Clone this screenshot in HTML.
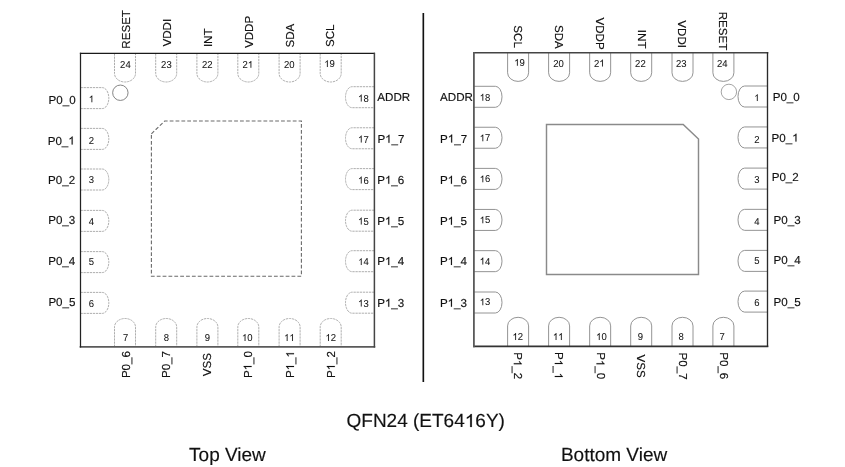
<!DOCTYPE html>
<html><head><meta charset="utf-8"><style>
html,body{margin:0;padding:0;background:#fff;}
body{width:845px;height:467px;overflow:hidden;}
svg{display:block;font-family:"Liberation Sans", sans-serif;text-rendering:geometricPrecision;will-change:transform;filter:blur(0.35px);}
text{stroke:#111;stroke-width:0.15px;}
.o{stroke:#111;stroke-width:0.15px;vector-effect:non-scaling-stroke;}
.n text,.n .o{stroke-width:0.05px;}
</style></head><body>
<svg width="845" height="467" viewBox="0 0 845 467">
<rect width="845" height="467" fill="#fff"/>
<path d="M114.5 53.4V73.4A10.5 8.6 0 0 0 135.5 73.4V53.4M114.5 346.85V327.1A10.5 8.6 0 0 1 135.5 327.1V346.85M155.7 53.4V73.4A10.5 8.6 0 0 0 176.7 73.4V53.4M155.7 346.85V327.1A10.5 8.6 0 0 1 176.7 327.1V346.85M196.9 53.4V73.4A10.5 8.6 0 0 0 217.9 73.4V53.4M196.9 346.85V327.1A10.5 8.6 0 0 1 217.9 327.1V346.85M237.8 53.4V73.4A10.5 8.6 0 0 0 258.8 73.4V53.4M237.8 346.85V327.1A10.5 8.6 0 0 1 258.8 327.1V346.85M279.1 53.4V73.4A10.5 8.6 0 0 0 300.1 73.4V53.4M279.1 346.85V327.1A10.5 8.6 0 0 1 300.1 327.1V346.85M320.2 53.4V73.4A10.5 8.6 0 0 0 341.2 73.4V53.4M320.2 346.85V327.1A10.5 8.6 0 0 1 341.2 327.1V346.85M80.5 87.6H102.2A6.6 10.5 0 0 1 102.2 108.6H80.5M80.5 128.4H102.2A6.6 10.5 0 0 1 102.2 149.4H80.5M80.5 169H102.2A6.6 10.5 0 0 1 102.2 190H80.5M80.5 210.4H102.2A6.6 10.5 0 0 1 102.2 231.4H80.5M80.5 251.6H102.2A6.6 10.5 0 0 1 102.2 272.6H80.5M80.5 292.4H102.2A6.6 10.5 0 0 1 102.2 313.4H80.5M374.4 86.7H352.1A6.6 10.5 0 0 0 352.1 107.7H374.4M374.4 127.75H352.1A6.6 10.5 0 0 0 352.1 148.75H374.4M374.4 168.6H352.1A6.6 10.5 0 0 0 352.1 189.6H374.4M374.4 210.2H352.1A6.6 10.5 0 0 0 352.1 231.2H374.4M374.4 250.7H352.1A6.6 10.5 0 0 0 352.1 271.7H374.4M374.4 292.2H352.1A6.6 10.5 0 0 0 352.1 313.2H374.4" fill="none" stroke="#a5a5a5" stroke-width="0.9" stroke-dasharray="2.3 0.8"/>
<circle cx="120.35" cy="92.75" r="7.7" fill="none" stroke="#777" stroke-width="0.9"/>
<path d="M151.4 133.8L164.7 121H301.4V276.2H151.4Z" fill="none" stroke="#6a6a6a" stroke-width="1.1" stroke-dasharray="3.8 2.06"/>
<path d="M80.5 53.4H374.4" stroke="#1a1a1a" stroke-width="1.25" stroke-linecap="square" fill="none"/><path d="M80.5 346.85H374.4" stroke="#5a5a5a" stroke-width="1.7" stroke-linecap="square" fill="none"/><path d="M80.5 53.4V346.85" stroke="#222" stroke-width="1.25" stroke-linecap="square" fill="none"/><path d="M374.4 53.4V346.85" stroke="#444" stroke-width="1.5" stroke-linecap="square" fill="none"/>
<g class="n">
<text x="125.4" y="67.8" font-size="10" text-anchor="middle" transform="translate(125.4 67.8) scale(0.95 1) translate(-125.4 -67.8)" fill="#111">24</text>
<text x="166.4" y="67.8" font-size="10" text-anchor="middle" transform="translate(166.4 67.8) scale(0.95 1) translate(-166.4 -67.8)" fill="#111">23</text>
<text x="207.2" y="67.8" font-size="10" text-anchor="middle" transform="translate(207.2 67.8) scale(0.95 1) translate(-207.2 -67.8)" fill="#111">22</text>
<g transform="translate(247.8 67.8) scale(0.95 1) translate(-247.8 -67.8)" fill="#111"><text x="247.8" y="67.8" font-size="10" text-anchor="middle" style="font-kerning:none">2 </text><path class="o" transform="translate(247.80 67.80) scale(0.00488 -0.00488)" d="M763 0H583V1098Q518 1038 412 979Q306 920 222 890V1057Q373 1125 486 1221Q599 1318 646 1409H763Z"/></g>
<text x="289.3" y="67.8" font-size="10" text-anchor="middle" transform="translate(289.3 67.8) scale(0.95 1) translate(-289.3 -67.8)" fill="#111">20</text>
<g transform="translate(329.5 67.1) scale(0.95 1) translate(-329.5 -67.1)" fill="#111"><text x="329.5" y="67.1" font-size="10" text-anchor="middle" style="font-kerning:none"> 9</text><path class="o" transform="translate(323.94 67.10) scale(0.00488 -0.00488)" d="M763 0H583V1098Q518 1038 412 979Q306 920 222 890V1057Q373 1125 486 1221Q599 1318 646 1409H763Z"/></g>
<text x="125.7" y="340.9" font-size="10" text-anchor="middle" transform="translate(125.7 340.9) scale(0.95 1) translate(-125.7 -340.9)" fill="#111">7</text>
<text x="166.5" y="340.9" font-size="10" text-anchor="middle" transform="translate(166.5 340.9) scale(0.95 1) translate(-166.5 -340.9)" fill="#111">8</text>
<text x="207.5" y="340.9" font-size="10" text-anchor="middle" transform="translate(207.5 340.9) scale(0.95 1) translate(-207.5 -340.9)" fill="#111">9</text>
<g transform="translate(247.2 340.9) scale(0.95 1) translate(-247.2 -340.9)" fill="#111"><text x="247.2" y="340.9" font-size="10" text-anchor="middle" style="font-kerning:none"> 0</text><path class="o" transform="translate(241.64 340.90) scale(0.00488 -0.00488)" d="M763 0H583V1098Q518 1038 412 979Q306 920 222 890V1057Q373 1125 486 1221Q599 1318 646 1409H763Z"/></g>
<g transform="translate(289.3 340.9) scale(0.95 1) translate(-289.3 -340.9)" fill="#111"><text x="289.3" y="340.9" font-size="10" text-anchor="middle" style="font-kerning:none">  </text><path class="o" transform="translate(283.74 340.90) scale(0.00488 -0.00488)" d="M763 0H583V1098Q518 1038 412 979Q306 920 222 890V1057Q373 1125 486 1221Q599 1318 646 1409H763Z"/><path class="o" transform="translate(289.30 340.90) scale(0.00488 -0.00488)" d="M763 0H583V1098Q518 1038 412 979Q306 920 222 890V1057Q373 1125 486 1221Q599 1318 646 1409H763Z"/></g>
<g transform="translate(330.7 340.9) scale(0.95 1) translate(-330.7 -340.9)" fill="#111"><text x="330.7" y="340.9" font-size="10" text-anchor="middle" style="font-kerning:none"> 2</text><path class="o" transform="translate(325.14 340.90) scale(0.00488 -0.00488)" d="M763 0H583V1098Q518 1038 412 979Q306 920 222 890V1057Q373 1125 486 1221Q599 1318 646 1409H763Z"/></g>
<g transform="translate(91.4 102.3) scale(0.95 1) translate(-91.4 -102.3)" fill="#111"><text x="91.4" y="102.3" font-size="10" text-anchor="middle" style="font-kerning:none"> </text><path class="o" transform="translate(88.62 102.30) scale(0.00488 -0.00488)" d="M763 0H583V1098Q518 1038 412 979Q306 920 222 890V1057Q373 1125 486 1221Q599 1318 646 1409H763Z"/></g>
<text x="91.4" y="143.7" font-size="10" text-anchor="middle" transform="translate(91.4 143.7) scale(0.95 1) translate(-91.4 -143.7)" fill="#111">2</text>
<text x="91.4" y="182.7" font-size="10" text-anchor="middle" transform="translate(91.4 182.7) scale(0.95 1) translate(-91.4 -182.7)" fill="#111">3</text>
<text x="91.4" y="225.1" font-size="10" text-anchor="middle" transform="translate(91.4 225.1) scale(0.95 1) translate(-91.4 -225.1)" fill="#111">4</text>
<text x="91.4" y="264.7" font-size="10" text-anchor="middle" transform="translate(91.4 264.7) scale(0.95 1) translate(-91.4 -264.7)" fill="#111">5</text>
<text x="91.4" y="307.1" font-size="10" text-anchor="middle" transform="translate(91.4 307.1) scale(0.95 1) translate(-91.4 -307.1)" fill="#111">6</text>
<g transform="translate(363.4 101.5) scale(0.95 1) translate(-363.4 -101.5)" fill="#111"><text x="363.4" y="101.5" font-size="10" text-anchor="middle" style="font-kerning:none"> 8</text><path class="o" transform="translate(357.84 101.50) scale(0.00488 -0.00488)" d="M763 0H583V1098Q518 1038 412 979Q306 920 222 890V1057Q373 1125 486 1221Q599 1318 646 1409H763Z"/></g>
<g transform="translate(363.4 142.5) scale(0.95 1) translate(-363.4 -142.5)" fill="#111"><text x="363.4" y="142.5" font-size="10" text-anchor="middle" style="font-kerning:none"> 7</text><path class="o" transform="translate(357.84 142.50) scale(0.00488 -0.00488)" d="M763 0H583V1098Q518 1038 412 979Q306 920 222 890V1057Q373 1125 486 1221Q599 1318 646 1409H763Z"/></g>
<g transform="translate(363.4 183.5) scale(0.95 1) translate(-363.4 -183.5)" fill="#111"><text x="363.4" y="183.5" font-size="10" text-anchor="middle" style="font-kerning:none"> 6</text><path class="o" transform="translate(357.84 183.50) scale(0.00488 -0.00488)" d="M763 0H583V1098Q518 1038 412 979Q306 920 222 890V1057Q373 1125 486 1221Q599 1318 646 1409H763Z"/></g>
<g transform="translate(363.4 224.5) scale(0.95 1) translate(-363.4 -224.5)" fill="#111"><text x="363.4" y="224.5" font-size="10" text-anchor="middle" style="font-kerning:none"> 5</text><path class="o" transform="translate(357.84 224.50) scale(0.00488 -0.00488)" d="M763 0H583V1098Q518 1038 412 979Q306 920 222 890V1057Q373 1125 486 1221Q599 1318 646 1409H763Z"/></g>
<g transform="translate(363.4 265.1) scale(0.95 1) translate(-363.4 -265.1)" fill="#111"><text x="363.4" y="265.1" font-size="10" text-anchor="middle" style="font-kerning:none"> 4</text><path class="o" transform="translate(357.84 265.10) scale(0.00488 -0.00488)" d="M763 0H583V1098Q518 1038 412 979Q306 920 222 890V1057Q373 1125 486 1221Q599 1318 646 1409H763Z"/></g>
<g transform="translate(363.4 306.5) scale(0.95 1) translate(-363.4 -306.5)" fill="#111"><text x="363.4" y="306.5" font-size="10" text-anchor="middle" style="font-kerning:none"> 3</text><path class="o" transform="translate(357.84 306.50) scale(0.00488 -0.00488)" d="M763 0H583V1098Q518 1038 412 979Q306 920 222 890V1057Q373 1125 486 1221Q599 1318 646 1409H763Z"/></g>
</g>
<text x="48.6" y="103.5" font-size="11.6" fill="#111">P0_0</text>
<g fill="#111"><text x="47.7" y="144.5" font-size="11.6" style="font-kerning:none">P0_ </text><path class="o" transform="translate(68.34 144.50) scale(0.00566 -0.00566)" d="M763 0H583V1098Q518 1038 412 979Q306 920 222 890V1057Q373 1125 486 1221Q599 1318 646 1409H763Z"/></g>
<text x="48" y="183.8" font-size="11.6" fill="#111">P0_2</text>
<text x="48.2" y="223.7" font-size="11.6" fill="#111">P0_3</text>
<text x="48.2" y="264.7" font-size="11.6" fill="#111">P0_4</text>
<text x="48.4" y="305.6" font-size="11.6" fill="#111">P0_5</text>
<text x="377.3" y="100.6" font-size="11.6" fill="#111">ADDR</text>
<g fill="#111"><text x="377.4" y="142.8" font-size="11.6" style="font-kerning:none">P _7</text><path class="o" transform="translate(385.14 142.80) scale(0.00566 -0.00566)" d="M763 0H583V1098Q518 1038 412 979Q306 920 222 890V1057Q373 1125 486 1221Q599 1318 646 1409H763Z"/></g>
<g fill="#111"><text x="377.2" y="183.8" font-size="11.6" style="font-kerning:none">P _6</text><path class="o" transform="translate(384.94 183.80) scale(0.00566 -0.00566)" d="M763 0H583V1098Q518 1038 412 979Q306 920 222 890V1057Q373 1125 486 1221Q599 1318 646 1409H763Z"/></g>
<g fill="#111"><text x="377.2" y="224.7" font-size="11.6" style="font-kerning:none">P _5</text><path class="o" transform="translate(384.94 224.70) scale(0.00566 -0.00566)" d="M763 0H583V1098Q518 1038 412 979Q306 920 222 890V1057Q373 1125 486 1221Q599 1318 646 1409H763Z"/></g>
<g fill="#111"><text x="377.2" y="264.9" font-size="11.6" style="font-kerning:none">P _4</text><path class="o" transform="translate(384.94 264.90) scale(0.00566 -0.00566)" d="M763 0H583V1098Q518 1038 412 979Q306 920 222 890V1057Q373 1125 486 1221Q599 1318 646 1409H763Z"/></g>
<g fill="#111"><text x="377.2" y="306.7" font-size="11.6" style="font-kerning:none">P _3</text><path class="o" transform="translate(384.94 306.70) scale(0.00566 -0.00566)" d="M763 0H583V1098Q518 1038 412 979Q306 920 222 890V1057Q373 1125 486 1221Q599 1318 646 1409H763Z"/></g>
<text x="130.1" y="48.7" font-size="11.6" transform="rotate(-90 130.1 48.7)" fill="#111">RESET</text>
<text x="171.2" y="46.5" font-size="11.6" transform="rotate(-90 171.2 46.5)" fill="#111">VDDI</text>
<text x="212.3" y="47.1" font-size="11.6" transform="rotate(-90 212.3 47.1)" fill="#111">INT</text>
<text x="252.8" y="48" font-size="11.6" transform="rotate(-90 252.8 48)" fill="#111">VDDP</text>
<text x="294.4" y="47.5" font-size="11.6" transform="rotate(-90 294.4 47.5)" fill="#111">SDA</text>
<text x="334.2" y="47" font-size="11.6" transform="rotate(-90 334.2 47)" fill="#111">SCL</text>
<text x="129.7" y="378.1" font-size="11.6" transform="rotate(-90 129.7 378.1)" fill="#111">P0_6</text>
<text x="170.3" y="378.1" font-size="11.6" transform="rotate(-90 170.3 378.1)" fill="#111">P0_7</text>
<text x="211.3" y="376.3" font-size="11.6" transform="rotate(-90 211.3 376.3)" fill="#111">VSS</text>
<g transform="rotate(-90 251.6 378.1)" fill="#111"><text x="251.6" y="378.1" font-size="11.6" style="font-kerning:none">P _0</text><path class="o" transform="translate(259.34 378.10) scale(0.00566 -0.00566)" d="M763 0H583V1098Q518 1038 412 979Q306 920 222 890V1057Q373 1125 486 1221Q599 1318 646 1409H763Z"/></g>
<g transform="rotate(-90 294 378.1)" fill="#111"><text x="294" y="378.1" font-size="11.6" style="font-kerning:none">P _ </text><path class="o" transform="translate(301.74 378.10) scale(0.00566 -0.00566)" d="M763 0H583V1098Q518 1038 412 979Q306 920 222 890V1057Q373 1125 486 1221Q599 1318 646 1409H763Z"/><path class="o" transform="translate(314.64 378.10) scale(0.00566 -0.00566)" d="M763 0H583V1098Q518 1038 412 979Q306 920 222 890V1057Q373 1125 486 1221Q599 1318 646 1409H763Z"/></g>
<g transform="rotate(-90 334.8 378.1)" fill="#111"><text x="334.8" y="378.1" font-size="11.6" style="font-kerning:none">P _2</text><path class="o" transform="translate(342.54 378.10) scale(0.00566 -0.00566)" d="M763 0H583V1098Q518 1038 412 979Q306 920 222 890V1057Q373 1125 486 1221Q599 1318 646 1409H763Z"/></g>
<path d="M507.6 52.8V72.8A10.5 8.6 0 0 0 528.6 72.8V52.8M507.6 346.4V325.9A10.5 8.6 0 0 1 528.6 325.9V346.4M548.6 52.8V72.8A10.5 8.6 0 0 0 569.6 72.8V52.8M548.6 346.4V325.9A10.5 8.6 0 0 1 569.6 325.9V346.4M589.65 52.8V72.8A10.5 8.6 0 0 0 610.65 72.8V52.8M589.65 346.4V325.9A10.5 8.6 0 0 1 610.65 325.9V346.4M630.7 52.8V72.8A10.5 8.6 0 0 0 651.7 72.8V52.8M630.7 346.4V325.9A10.5 8.6 0 0 1 651.7 325.9V346.4M672 52.8V72.8A10.5 8.6 0 0 0 693 72.8V52.8M672 346.4V325.9A10.5 8.6 0 0 1 693 325.9V346.4M712.9 52.8V72.8A10.5 8.6 0 0 0 733.9 72.8V52.8M712.9 346.4V325.9A10.5 8.6 0 0 1 733.9 325.9V346.4M767.5 86H744.6A6.6 10.5 0 0 0 744.6 107H767.5M767.5 126.95H744.6A6.6 10.5 0 0 0 744.6 147.95H767.5M767.5 168.1H744.6A6.6 10.5 0 0 0 744.6 189.1H767.5M767.5 209.35H744.6A6.6 10.5 0 0 0 744.6 230.35H767.5M767.5 250.4H744.6A6.6 10.5 0 0 0 744.6 271.4H767.5M767.5 291.1H744.6A6.6 10.5 0 0 0 744.6 312.1H767.5M473.9 86.3H495.4A6.6 10.5 0 0 1 495.4 107.3H473.9M473.9 127.25H495.4A6.6 10.5 0 0 1 495.4 148.25H473.9M473.9 168.4H495.4A6.6 10.5 0 0 1 495.4 189.4H473.9M473.9 209.45H495.4A6.6 10.5 0 0 1 495.4 230.45H473.9M473.9 250.65H495.4A6.6 10.5 0 0 1 495.4 271.65H473.9M473.9 292H495.4A6.6 10.5 0 0 1 495.4 313H473.9" fill="none" stroke="#888" stroke-width="0.9"/>
<circle cx="728.9" cy="91.9" r="7.7" fill="none" stroke="#999" stroke-width="0.9"/>
<path d="M546.5 124.5H683.2L698.5 139V274.5H546.5Z" fill="none" stroke="#8a8a8a" stroke-width="1.45"/>
<path d="M473.9 52.8H767.5" stroke="#444" stroke-width="1.6" stroke-linecap="square" fill="none"/><path d="M473.9 346.4H767.5" stroke="#333" stroke-width="1.6" stroke-linecap="square" fill="none"/><path d="M473.9 52.8V346.4" stroke="#5a5a5a" stroke-width="1.8" stroke-linecap="square" fill="none"/><path d="M767.5 52.8V346.4" stroke="#2a2a2a" stroke-width="1.35" stroke-linecap="square" fill="none"/>
<g class="n">
<g transform="translate(519.5 65.8) scale(0.95 1) translate(-519.5 -65.8)" fill="#111"><text x="519.5" y="65.8" font-size="10" text-anchor="middle" style="font-kerning:none"> 9</text><path class="o" transform="translate(513.94 65.80) scale(0.00488 -0.00488)" d="M763 0H583V1098Q518 1038 412 979Q306 920 222 890V1057Q373 1125 486 1221Q599 1318 646 1409H763Z"/></g>
<text x="558.5" y="66.5" font-size="10" text-anchor="middle" transform="translate(558.5 66.5) scale(0.95 1) translate(-558.5 -66.5)" fill="#111">20</text>
<g transform="translate(599.3 66.5) scale(0.95 1) translate(-599.3 -66.5)" fill="#111"><text x="599.3" y="66.5" font-size="10" text-anchor="middle" style="font-kerning:none">2 </text><path class="o" transform="translate(599.30 66.50) scale(0.00488 -0.00488)" d="M763 0H583V1098Q518 1038 412 979Q306 920 222 890V1057Q373 1125 486 1221Q599 1318 646 1409H763Z"/></g>
<text x="640.4" y="66.5" font-size="10" text-anchor="middle" transform="translate(640.4 66.5) scale(0.95 1) translate(-640.4 -66.5)" fill="#111">22</text>
<text x="681.3" y="66.5" font-size="10" text-anchor="middle" transform="translate(681.3 66.5) scale(0.95 1) translate(-681.3 -66.5)" fill="#111">23</text>
<text x="722.3" y="66.5" font-size="10" text-anchor="middle" transform="translate(722.3 66.5) scale(0.95 1) translate(-722.3 -66.5)" fill="#111">24</text>
<g transform="translate(517.8 340) scale(0.95 1) translate(-517.8 -340)" fill="#111"><text x="517.8" y="340" font-size="10" text-anchor="middle" style="font-kerning:none"> 2</text><path class="o" transform="translate(512.24 340.00) scale(0.00488 -0.00488)" d="M763 0H583V1098Q518 1038 412 979Q306 920 222 890V1057Q373 1125 486 1221Q599 1318 646 1409H763Z"/></g>
<g transform="translate(558.2 340) scale(0.95 1) translate(-558.2 -340)" fill="#111"><text x="558.2" y="340" font-size="10" text-anchor="middle" style="font-kerning:none">  </text><path class="o" transform="translate(552.64 340.00) scale(0.00488 -0.00488)" d="M763 0H583V1098Q518 1038 412 979Q306 920 222 890V1057Q373 1125 486 1221Q599 1318 646 1409H763Z"/><path class="o" transform="translate(558.20 340.00) scale(0.00488 -0.00488)" d="M763 0H583V1098Q518 1038 412 979Q306 920 222 890V1057Q373 1125 486 1221Q599 1318 646 1409H763Z"/></g>
<g transform="translate(601.4 340) scale(0.95 1) translate(-601.4 -340)" fill="#111"><text x="601.4" y="340" font-size="10" text-anchor="middle" style="font-kerning:none"> 0</text><path class="o" transform="translate(595.84 340.00) scale(0.00488 -0.00488)" d="M763 0H583V1098Q518 1038 412 979Q306 920 222 890V1057Q373 1125 486 1221Q599 1318 646 1409H763Z"/></g>
<text x="640.4" y="340" font-size="10" text-anchor="middle" transform="translate(640.4 340) scale(0.95 1) translate(-640.4 -340)" fill="#111">9</text>
<text x="681.2" y="340" font-size="10" text-anchor="middle" transform="translate(681.2 340) scale(0.95 1) translate(-681.2 -340)" fill="#111">8</text>
<text x="722.1" y="340" font-size="10" text-anchor="middle" transform="translate(722.1 340) scale(0.95 1) translate(-722.1 -340)" fill="#111">7</text>
<g transform="translate(756.8 101.1) scale(0.95 1) translate(-756.8 -101.1)" fill="#111"><text x="756.8" y="101.1" font-size="10" text-anchor="middle" style="font-kerning:none"> </text><path class="o" transform="translate(754.02 101.10) scale(0.00488 -0.00488)" d="M763 0H583V1098Q518 1038 412 979Q306 920 222 890V1057Q373 1125 486 1221Q599 1318 646 1409H763Z"/></g>
<text x="756.8" y="142.5" font-size="10" text-anchor="middle" transform="translate(756.8 142.5) scale(0.95 1) translate(-756.8 -142.5)" fill="#111">2</text>
<text x="756.8" y="182.5" font-size="10" text-anchor="middle" transform="translate(756.8 182.5) scale(0.95 1) translate(-756.8 -182.5)" fill="#111">3</text>
<text x="756.8" y="225.1" font-size="10" text-anchor="middle" transform="translate(756.8 225.1) scale(0.95 1) translate(-756.8 -225.1)" fill="#111">4</text>
<text x="756.8" y="263.9" font-size="10" text-anchor="middle" transform="translate(756.8 263.9) scale(0.95 1) translate(-756.8 -263.9)" fill="#111">5</text>
<text x="756.8" y="305.9" font-size="10" text-anchor="middle" transform="translate(756.8 305.9) scale(0.95 1) translate(-756.8 -305.9)" fill="#111">6</text>
<g transform="translate(485 100.7) scale(0.95 1) translate(-485 -100.7)" fill="#111"><text x="485" y="100.7" font-size="10" text-anchor="middle" style="font-kerning:none"> 8</text><path class="o" transform="translate(479.44 100.70) scale(0.00488 -0.00488)" d="M763 0H583V1098Q518 1038 412 979Q306 920 222 890V1057Q373 1125 486 1221Q599 1318 646 1409H763Z"/></g>
<g transform="translate(485 141.3) scale(0.95 1) translate(-485 -141.3)" fill="#111"><text x="485" y="141.3" font-size="10" text-anchor="middle" style="font-kerning:none"> 7</text><path class="o" transform="translate(479.44 141.30) scale(0.00488 -0.00488)" d="M763 0H583V1098Q518 1038 412 979Q306 920 222 890V1057Q373 1125 486 1221Q599 1318 646 1409H763Z"/></g>
<g transform="translate(485 182.3) scale(0.95 1) translate(-485 -182.3)" fill="#111"><text x="485" y="182.3" font-size="10" text-anchor="middle" style="font-kerning:none"> 6</text><path class="o" transform="translate(479.44 182.30) scale(0.00488 -0.00488)" d="M763 0H583V1098Q518 1038 412 979Q306 920 222 890V1057Q373 1125 486 1221Q599 1318 646 1409H763Z"/></g>
<g transform="translate(485 223.3) scale(0.95 1) translate(-485 -223.3)" fill="#111"><text x="485" y="223.3" font-size="10" text-anchor="middle" style="font-kerning:none"> 5</text><path class="o" transform="translate(479.44 223.30) scale(0.00488 -0.00488)" d="M763 0H583V1098Q518 1038 412 979Q306 920 222 890V1057Q373 1125 486 1221Q599 1318 646 1409H763Z"/></g>
<g transform="translate(485 264.5) scale(0.95 1) translate(-485 -264.5)" fill="#111"><text x="485" y="264.5" font-size="10" text-anchor="middle" style="font-kerning:none"> 4</text><path class="o" transform="translate(479.44 264.50) scale(0.00488 -0.00488)" d="M763 0H583V1098Q518 1038 412 979Q306 920 222 890V1057Q373 1125 486 1221Q599 1318 646 1409H763Z"/></g>
<g transform="translate(485 305.3) scale(0.95 1) translate(-485 -305.3)" fill="#111"><text x="485" y="305.3" font-size="10" text-anchor="middle" style="font-kerning:none"> 3</text><path class="o" transform="translate(479.44 305.30) scale(0.00488 -0.00488)" d="M763 0H583V1098Q518 1038 412 979Q306 920 222 890V1057Q373 1125 486 1221Q599 1318 646 1409H763Z"/></g>
</g>
<text x="772.7" y="100.6" font-size="11.6" fill="#111">P0_0</text>
<g fill="#111"><text x="771.5" y="141.6" font-size="11.6" style="font-kerning:none">P0_ </text><path class="o" transform="translate(792.14 141.60) scale(0.00566 -0.00566)" d="M763 0H583V1098Q518 1038 412 979Q306 920 222 890V1057Q373 1125 486 1221Q599 1318 646 1409H763Z"/></g>
<text x="771.7" y="181.4" font-size="11.6" fill="#111">P0_2</text>
<text x="773.6" y="223.5" font-size="11.6" fill="#111">P0_3</text>
<text x="773.6" y="264.2" font-size="11.6" fill="#111">P0_4</text>
<text x="773.6" y="305.5" font-size="11.6" fill="#111">P0_5</text>
<text x="440.1" y="100.7" font-size="11.6" fill="#111">ADDR</text>
<g fill="#111"><text x="440.1" y="142.5" font-size="11.6" style="font-kerning:none">P _7</text><path class="o" transform="translate(447.84 142.50) scale(0.00566 -0.00566)" d="M763 0H583V1098Q518 1038 412 979Q306 920 222 890V1057Q373 1125 486 1221Q599 1318 646 1409H763Z"/></g>
<g fill="#111"><text x="439.9" y="183.8" font-size="11.6" style="font-kerning:none">P _6</text><path class="o" transform="translate(447.64 183.80) scale(0.00566 -0.00566)" d="M763 0H583V1098Q518 1038 412 979Q306 920 222 890V1057Q373 1125 486 1221Q599 1318 646 1409H763Z"/></g>
<g fill="#111"><text x="439.9" y="224.7" font-size="11.6" style="font-kerning:none">P _5</text><path class="o" transform="translate(447.64 224.70) scale(0.00566 -0.00566)" d="M763 0H583V1098Q518 1038 412 979Q306 920 222 890V1057Q373 1125 486 1221Q599 1318 646 1409H763Z"/></g>
<g fill="#111"><text x="439.9" y="264.9" font-size="11.6" style="font-kerning:none">P _4</text><path class="o" transform="translate(447.64 264.90) scale(0.00566 -0.00566)" d="M763 0H583V1098Q518 1038 412 979Q306 920 222 890V1057Q373 1125 486 1221Q599 1318 646 1409H763Z"/></g>
<g fill="#111"><text x="439.9" y="306.7" font-size="11.6" style="font-kerning:none">P _3</text><path class="o" transform="translate(447.64 306.70) scale(0.00566 -0.00566)" d="M763 0H583V1098Q518 1038 412 979Q306 920 222 890V1057Q373 1125 486 1221Q599 1318 646 1409H763Z"/></g>
<text x="513.7" y="47.9" font-size="11.6" text-anchor="end" transform="rotate(90 513.7 47.9)" fill="#111">SCL</text>
<text x="555.2" y="48.8" font-size="11.6" text-anchor="end" transform="rotate(90 555.2 48.8)" fill="#111">SDA</text>
<text x="596.4" y="49.7" font-size="11.6" text-anchor="end" transform="rotate(90 596.4 49.7)" fill="#111">VDDP</text>
<text x="637.7" y="48.5" font-size="11.6" text-anchor="end" transform="rotate(90 637.7 48.5)" fill="#111">INT</text>
<text x="677.9" y="48" font-size="11.6" text-anchor="end" transform="rotate(90 677.9 48)" fill="#111">VDDI</text>
<text x="719" y="50.3" font-size="11.6" text-anchor="end" transform="rotate(90 719 50.3)" fill="#111">RESET</text>
<g transform="rotate(90 513.8 379.3)" fill="#111"><text x="513.8" y="379.3" font-size="11.6" text-anchor="end" style="font-kerning:none">P _2</text><path class="o" transform="translate(494.45 379.30) scale(0.00566 -0.00566)" d="M763 0H583V1098Q518 1038 412 979Q306 920 222 890V1057Q373 1125 486 1221Q599 1318 646 1409H763Z"/></g>
<g transform="rotate(90 554.8 379.1)" fill="#111"><text x="554.8" y="379.1" font-size="11.6" text-anchor="end" style="font-kerning:none">P _ </text><path class="o" transform="translate(535.45 379.10) scale(0.00566 -0.00566)" d="M763 0H583V1098Q518 1038 412 979Q306 920 222 890V1057Q373 1125 486 1221Q599 1318 646 1409H763Z"/><path class="o" transform="translate(548.35 379.10) scale(0.00566 -0.00566)" d="M763 0H583V1098Q518 1038 412 979Q306 920 222 890V1057Q373 1125 486 1221Q599 1318 646 1409H763Z"/></g>
<g transform="rotate(90 596.5 379.3)" fill="#111"><text x="596.5" y="379.3" font-size="11.6" text-anchor="end" style="font-kerning:none">P _0</text><path class="o" transform="translate(577.15 379.30) scale(0.00566 -0.00566)" d="M763 0H583V1098Q518 1038 412 979Q306 920 222 890V1057Q373 1125 486 1221Q599 1318 646 1409H763Z"/></g>
<text x="637.4" y="377.7" font-size="11.6" text-anchor="end" transform="rotate(90 637.4 377.7)" fill="#111">VSS</text>
<text x="679.3" y="379.6" font-size="11.6" text-anchor="end" transform="rotate(90 679.3 379.6)" fill="#111">P0_7</text>
<text x="720.1" y="379.3" font-size="11.6" text-anchor="end" transform="rotate(90 720.1 379.3)" fill="#111">P0_6</text>
<rect x="422.5" y="13" width="1.65" height="369" fill="#111"/>
<g transform="translate(346.5 427) scale(1.0 1) translate(-346.5 -427)" fill="#111"><text x="346.5" y="427" font-size="19" style="font-kerning:none">QFN24 (ET64 6Y)</text><path class="o" transform="translate(464.76 427.00) scale(0.00928 -0.00928)" d="M763 0H583V1098Q518 1038 412 979Q306 920 222 890V1057Q373 1125 486 1221Q599 1318 646 1409H763Z"/></g>
<text x="189.1" y="460.6" font-size="19" transform="translate(189.1 460.6) scale(1.0 1) translate(-189.1 -460.6)" fill="#111">Top View</text>
<text x="560.9" y="460.9" font-size="19" transform="translate(560.9 460.9) scale(1.0 1) translate(-560.9 -460.9)" fill="#111">Bottom View</text>
</svg>
</body></html>
